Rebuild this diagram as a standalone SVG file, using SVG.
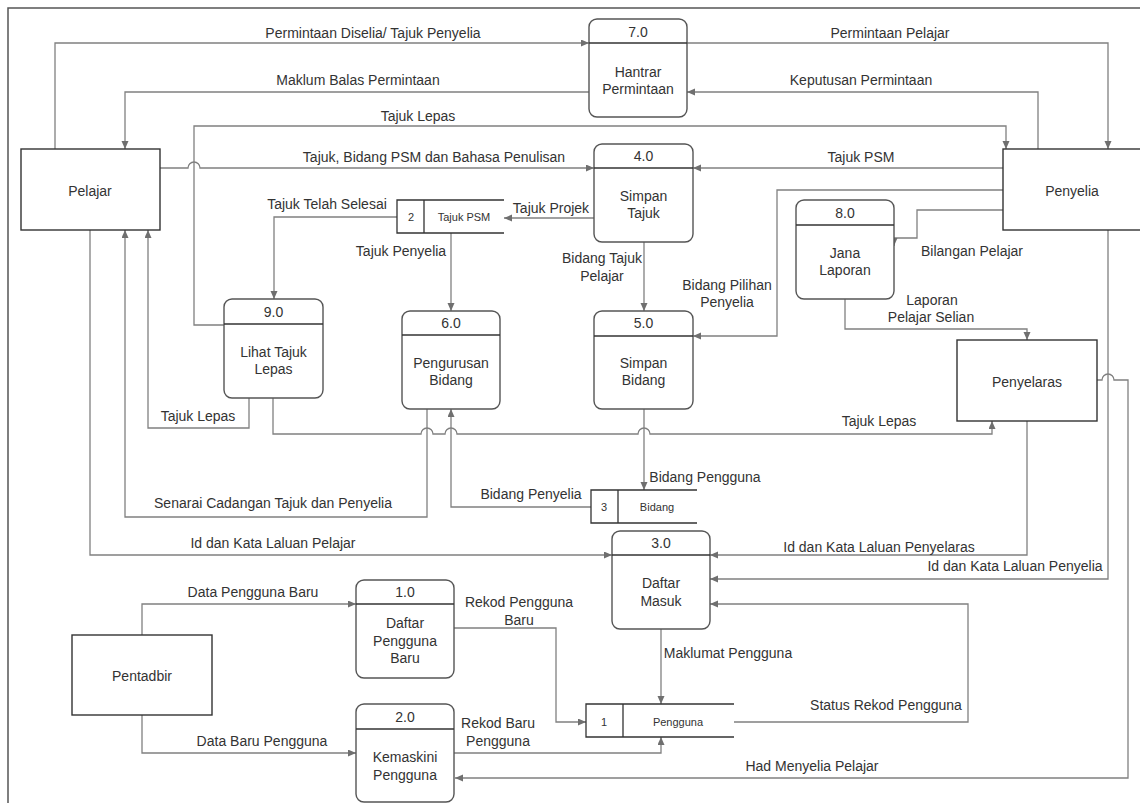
<svg xmlns="http://www.w3.org/2000/svg" width="1140" height="803" viewBox="0 0 1140 803">
<style>
text{font-family:"Liberation Sans",Arial,sans-serif;font-size:14px;fill:#333;text-anchor:middle}
.st{font-size:11px}
.ent{fill:#fff;stroke:#333;stroke-width:1.4}
.proc{fill:#fff;stroke:#555;stroke-width:1.4}
.div{stroke:#333;stroke-width:1.3;fill:none}
.store{stroke:#333;stroke-width:1.3;fill:none}
.c path{fill:none;stroke:#808080;stroke-width:1.3}
.c path.a{marker-end:url(#arr)}
</style>
<defs>
<marker id="arr" markerUnits="userSpaceOnUse" markerWidth="9" markerHeight="8" refX="8" refY="3.5" orient="auto">
<path d="M0,0 L8,3.5 L0,7 z" fill="#6f6f6f"/>
</marker>
</defs>
<rect width="1140" height="803" fill="#fff"/>
<rect x="8" y="8" width="1200" height="900" fill="none" stroke="#555" stroke-width="1.5"/>

<g class="c" id="connectors">
<path class="a" d="M55,149 V43 H589"/>
<path class="a" d="M589,92 H125 V149"/>
<path class="a" d="M224,325 H194 V126 H1006 V149"/>
<path class="a" d="M160,168 H188 a6,6 0 0 1 12,0 H594"/>
<path class="a" d="M687,43 H1108 V149"/>
<path class="a" d="M1038,149 V92 H687"/>
<path class="a" d="M1003,168 H693"/>
<path class="a" d="M1003,190 H777 V336 H693"/>
<path class="a" d="M1003,210 H917 V238 H894 V246"/>
<path class="a" d="M845,299 V329 H1027 V340"/>
<path class="a" d="M594,218 H504"/>
<path class="a" d="M397,217 H274 V299"/>
<path class="a" d="M451,233 V311"/>
<path class="a" d="M644,242 V311"/>
<path class="a" d="M644,409 V490"/>
<path class="a" d="M591,507 H451 V409"/>
<path class="a" d="M427,409 V517 H125 V230"/>
<path class="a" d="M249,398 V428 H148 V230"/>
<path class="a" d="M273,398 V434 H421 a6,6 0 0 1 12,0 H445 a6,6 0 0 1 12,0 H638 a6,6 0 0 1 12,0 H992 V421"/>
<path class="a" d="M90,230 V555 H612"/>
<path class="a" d="M1027,421 V555 H710"/>
<path class="a" d="M1108,230 V579 H710"/>
<path class="a" d="M1097,380 H1102 a6,6 0 0 1 12,0 H1128 V778 H455"/>
<path class="a" d="M734,722 H968 V604 H710"/>
<path class="a" d="M661,629 V704"/>
<path class="a" d="M142,635 V604 H356"/>
<path class="a" d="M142,715 V753 H356"/>
<path class="a" d="M454,628 H556 V722 H586"/>
<path class="a" d="M454,753 H661 V737"/>
</g>

<g id="labels">
<text x="373" y="38">Permintaan Diselia/ Tajuk Penyelia</text>
<text x="890" y="38">Permintaan Pelajar</text>
<text x="358" y="85">Maklum Balas Permintaan</text>
<text x="861" y="85">Keputusan Permintaan</text>
<text x="418" y="121">Tajuk Lepas</text>
<text x="434" y="162">Tajuk, Bidang PSM dan Bahasa Penulisan</text>
<text x="861" y="162">Tajuk PSM</text>
<text x="327" y="209">Tajuk Telah Selesai</text>
<text x="551" y="213">Tajuk Projek</text>
<text x="401" y="256">Tajuk Penyelia</text>
<text x="602" y="263">Bidang Tajuk</text>
<text x="602" y="281">Pelajar</text>
<text x="727" y="290">Bidang Pilihan</text>
<text x="727" y="307">Penyelia</text>
<text x="972" y="256">Bilangan Pelajar</text>
<text x="932" y="305">Laporan</text>
<text x="931" y="322">Pelajar Selian</text>
<text x="879" y="426">Tajuk Lepas</text>
<text x="198" y="421">Tajuk Lepas</text>
<text x="273" y="508">Senarai Cadangan Tajuk dan Penyelia</text>
<text x="531" y="499">Bidang Penyelia</text>
<text x="705" y="482">Bidang Pengguna</text>
<text x="273" y="548">Id dan Kata Laluan Pelajar</text>
<text x="879" y="552">Id dan Kata Laluan Penyelaras</text>
<text x="1015" y="571">Id dan Kata Laluan Penyelia</text>
<text x="253" y="597">Data Pengguna Baru</text>
<text x="519" y="607">Rekod Pengguna</text>
<text x="519" y="625">Baru</text>
<text x="728" y="658">Maklumat Pengguna</text>
<text x="886" y="710">Status Rekod Pengguna</text>
<text x="262" y="746">Data Baru Pengguna</text>
<text x="498" y="728">Rekod Baru</text>
<text x="498" y="746">Pengguna</text>
<text x="812" y="771">Had Menyelia Pelajar</text>
</g>

<g id="pelajar"><rect class="ent" x="21" y="149" width="139" height="81"/><text x="90" y="196">Pelajar</text></g>
<g id="penyelia"><rect class="ent" x="1003" y="149" width="139" height="81"/><text x="1072" y="196">Penyelia</text></g>
<g id="penyelaras"><rect class="ent" x="957" y="340" width="140" height="81"/><text x="1027" y="387">Penyelaras</text></g>
<g id="pentadbir"><rect class="ent" x="72" y="635" width="140" height="80"/><text x="142" y="681">Pentadbir</text></g>

<g id="p7"><rect class="proc" x="589" y="19" width="98" height="98" rx="8"/><line class="div" x1="589" y1="43" x2="687" y2="43"/><text x="638" y="37">7.0</text><text x="638" y="77">Hantrar</text><text x="638" y="94">Permintaan</text></g>
<g id="p4"><rect class="proc" x="594" y="144" width="99" height="98" rx="8"/><line class="div" x1="594" y1="168" x2="693" y2="168"/><text x="643.5" y="161">4.0</text><text x="643.5" y="201">Simpan</text><text x="643.5" y="218">Tajuk</text></g>
<g id="p8"><rect class="proc" x="796" y="200" width="98" height="99" rx="8"/><line class="div" x1="796" y1="225" x2="894" y2="225"/><text x="845" y="218">8.0</text><text x="845" y="258">Jana</text><text x="845" y="275">Laporan</text></g>
<g id="p9"><rect class="proc" x="224" y="299" width="99" height="99" rx="8"/><line class="div" x1="224" y1="324" x2="323" y2="324"/><text x="273.5" y="317">9.0</text><text x="273.5" y="357">Lihat Tajuk</text><text x="273.5" y="374">Lepas</text></g>
<g id="p6"><rect class="proc" x="402" y="311" width="98" height="98" rx="8"/><line class="div" x1="402" y1="335" x2="500" y2="335"/><text x="451" y="328">6.0</text><text x="451" y="368">Pengurusan</text><text x="451" y="385">Bidang</text></g>
<g id="p5"><rect class="proc" x="594" y="311" width="99" height="98" rx="8"/><line class="div" x1="594" y1="336" x2="693" y2="336"/><text x="643.5" y="328">5.0</text><text x="643.5" y="368">Simpan</text><text x="643.5" y="385">Bidang</text></g>
<g id="p3"><rect class="proc" x="612" y="531" width="98" height="98" rx="8"/><line class="div" x1="612" y1="555" x2="710" y2="555"/><text x="661" y="548">3.0</text><text x="661" y="588">Daftar</text><text x="661" y="606">Masuk</text></g>
<g id="p1"><rect class="proc" x="356" y="580" width="98" height="98" rx="8"/><line class="div" x1="356" y1="604" x2="454" y2="604"/><text x="405" y="597">1.0</text><text x="405" y="628">Daftar</text><text x="405" y="646">Pengguna</text><text x="405" y="663">Baru</text></g>
<g id="p2"><rect class="proc" x="356" y="704" width="98" height="98" rx="8"/><line class="div" x1="356" y1="729" x2="454" y2="729"/><text x="405" y="722">2.0</text><text x="405" y="762">Kemaskini</text><text x="405" y="780">Pengguna</text></g>

<g id="d2"><rect x="397" y="200" width="107" height="33" fill="#fff"/><path class="store" d="M504,200 H397 V233 H504 M424,200 V233"/><text class="st" x="411" y="221">2</text><text class="st" x="464" y="221">Tajuk PSM</text></g>
<g id="d3"><rect x="591" y="490" width="106" height="33" fill="#fff"/><path class="store" d="M697,490 H591 V523 H697 M618,490 V523"/><text class="st" x="604" y="511">3</text><text class="st" x="657" y="511">Bidang</text></g>
<g id="d1"><rect x="586" y="704" width="148" height="33" fill="#fff"/><path class="store" d="M734,704 H586 V737 H734 M623,704 V737"/><text class="st" x="604" y="726">1</text><text class="st" x="678" y="726">Pengguna</text></g>
</svg>
